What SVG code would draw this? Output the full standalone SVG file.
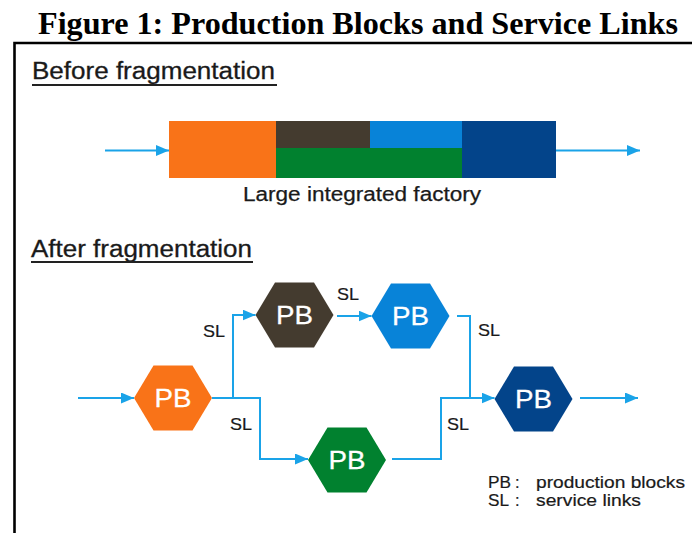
<svg xmlns="http://www.w3.org/2000/svg" width="692" height="533" viewBox="0 0 692 533">
  <defs>
    <marker id="arrow" markerUnits="userSpaceOnUse" markerWidth="13" markerHeight="11" refX="13" refY="5.5" orient="auto">
      <path d="M0,0 L13,5.5 L0,11 z" fill="#1AA3E8"/>
    </marker>
    <style>
      .title { font-family: "Liberation Serif", "Times New Roman", serif; font-weight: bold; font-size: 32px; fill: #000; }
      .head { font-family: "Liberation Sans", Arial, sans-serif; font-size: 23.5px; fill: #1a1a1a; stroke: #1a1a1a; stroke-width: 0.3; }
      .cap { font-family: "Liberation Sans", Arial, sans-serif; font-size: 20px; fill: #1a1a1a; stroke: #1a1a1a; stroke-width: 0.25; }
      .sl { font-family: "Liberation Sans", Arial, sans-serif; font-size: 17px; fill: #1a1a1a; stroke: #1a1a1a; stroke-width: 0.2; }
      .pb { font-family: "Liberation Sans", Arial, sans-serif; font-size: 26px; fill: #fff; stroke: #fff; stroke-width: 0.3; text-anchor: middle; }
      .legend { font-family: "Liberation Sans", Arial, sans-serif; font-size: 16.5px; fill: #1a1a1a; stroke: #1a1a1a; stroke-width: 0.2; }
      .link { fill: none; stroke: #1AA3E8; stroke-width: 2; }
      .rule { stroke: #222; stroke-width: 2; }
    </style>
  </defs>

  <rect width="692" height="533" fill="#fff"/>

  <!-- title and frame -->
  <text class="title" x="358" y="34" text-anchor="middle" textLength="640" lengthAdjust="spacingAndGlyphs">Figure 1: Production Blocks and Service Links</text>
  <path d="M14.5,533 V43 H692" fill="none" stroke="#000" stroke-width="2.6"/>

  <!-- section: before -->
  <text class="head" x="32" y="79" textLength="243" lengthAdjust="spacingAndGlyphs">Before fragmentation</text>
  <line class="rule" x1="32" y1="85" x2="277" y2="85"/>

  <g id="factory">
    <rect x="169" y="121" width="107" height="57" fill="#F97318"/>
    <rect x="276" y="121" width="94" height="27" fill="#443B2F"/>
    <rect x="370" y="121" width="92" height="27" fill="#0883D8"/>
    <rect x="276" y="148" width="186" height="30" fill="#01812F"/>
    <rect x="462" y="121" width="94" height="57" fill="#03448A"/>
    <text class="cap" x="243" y="201" textLength="238" lengthAdjust="spacingAndGlyphs">Large integrated factory</text>
  </g>

  <!-- section: after -->
  <text class="head" x="31" y="256.5" textLength="221" lengthAdjust="spacingAndGlyphs">After fragmentation</text>
  <line class="rule" x1="31" y1="262" x2="253" y2="262"/>

  <g id="pb-orange">
    <polygon points="134,398 153.5,365.5 192.5,365.5 212,398 192.5,430.5 153.5,430.5" fill="#F97318"/>
    <text class="pb" x="173" y="407" textLength="37" lengthAdjust="spacingAndGlyphs">PB</text>
  </g>
  <g id="pb-brown">
    <polygon points="255.5,315 275,282.5 314,282.5 333.5,315 314,347.5 275,347.5" fill="#443B2F"/>
    <text class="pb" x="294.5" y="324" textLength="37" lengthAdjust="spacingAndGlyphs">PB</text>
  </g>
  <g id="pb-blue">
    <polygon points="371.5,316 391,283.5 430,283.5 449.5,316 430,348.5 391,348.5" fill="#0883D8"/>
    <text class="pb" x="410.5" y="325" textLength="37" lengthAdjust="spacingAndGlyphs">PB</text>
  </g>
  <g id="pb-green">
    <polygon points="308,460 327.5,427.5 366.5,427.5 386,460 366.5,492.5 327.5,492.5" fill="#01812F"/>
    <text class="pb" x="347" y="469" textLength="37" lengthAdjust="spacingAndGlyphs">PB</text>
  </g>
  <g id="pb-navy">
    <polygon points="494.5,399 514,366.5 553,366.5 572.5,399 553,431.5 514,431.5" fill="#03448A"/>
    <text class="pb" x="533.5" y="408" textLength="37" lengthAdjust="spacingAndGlyphs">PB</text>
  </g>

  <g id="connectors">
    <path class="link" d="M105,150.5 H169" marker-end="url(#arrow)"/>
    <path class="link" d="M556,150.5 H640" marker-end="url(#arrow)"/>
    <path class="link" d="M78,398 H134" marker-end="url(#arrow)"/>
    <path class="link" d="M212,398 H260 V459 H308" marker-end="url(#arrow)"/>
    <path class="link" d="M233,398 V315 H255.5" marker-end="url(#arrow)"/>
    <path class="link" d="M337,316 H371.5" marker-end="url(#arrow)"/>
    <path class="link" d="M457,316 H470 V398 H494.5" marker-end="url(#arrow)"/>
    <path class="link" d="M392,459 H441 V398 H470"/>
    <path class="link" d="M580,398 H638" marker-end="url(#arrow)"/>
  </g>

  <g id="labels">
    <text class="sl" x="203" y="337" textLength="22" lengthAdjust="spacingAndGlyphs">SL</text>
    <text class="sl" x="337" y="300" textLength="22" lengthAdjust="spacingAndGlyphs">SL</text>
    <text class="sl" x="478" y="336" textLength="22" lengthAdjust="spacingAndGlyphs">SL</text>
    <text class="sl" x="230" y="430" textLength="22" lengthAdjust="spacingAndGlyphs">SL</text>
    <text class="sl" x="447" y="430" textLength="22" lengthAdjust="spacingAndGlyphs">SL</text>
  </g>

  <g id="legend">
    <text class="legend" y="488"><tspan x="488" textLength="23" lengthAdjust="spacingAndGlyphs">PB</tspan><tspan x="515">:</tspan><tspan x="536" textLength="149" lengthAdjust="spacingAndGlyphs">production blocks</tspan></text>
    <text class="legend" y="506"><tspan x="488" textLength="21" lengthAdjust="spacingAndGlyphs">SL</tspan><tspan x="515">:</tspan><tspan x="536" textLength="105" lengthAdjust="spacingAndGlyphs">service links</tspan></text>
  </g>
</svg>
